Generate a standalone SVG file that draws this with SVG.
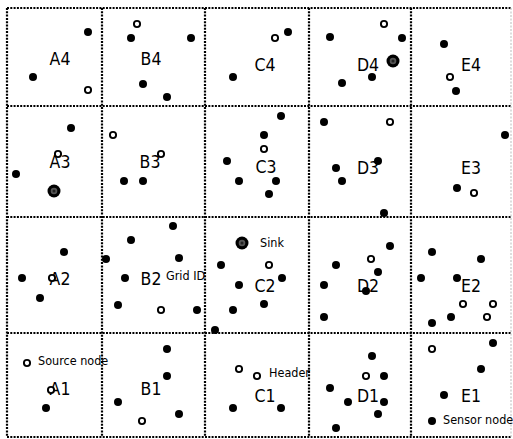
<svg xmlns="http://www.w3.org/2000/svg" width="513" height="439" viewBox="0 0 513 439">
<style>
.grid{stroke:#000;stroke-width:2.2;stroke-dasharray:2 1.3;fill:none}
.f{fill:#000}
.o{fill:#fff;stroke:#000;stroke-width:1.9}
.lbl{font-family:"DejaVu Sans Condensed","DejaVu Sans",sans-serif;font-size:17.5px;text-anchor:middle;fill:#000}
.sm{font-family:"DejaVu Sans Condensed","DejaVu Sans",sans-serif;font-size:12.5px;fill:#000}
</style>
<defs>
<circle id="fd" r="4" class="f"/>
<circle id="od" r="3.1" class="o"/>
<g id="sk"><circle r="6.5" fill="#000"/><circle r="3.3" fill="#555"/><circle r="1.5" fill="#222"/></g>
</defs>
<rect width="513" height="439" fill="#fff"/>
<g id="connectors">
<line class="grid" x1="7" y1="8" x2="511" y2="8"/>
<line class="grid" x1="7" y1="106" x2="511" y2="106"/>
<line class="grid" x1="7" y1="217" x2="511" y2="217"/>
<line class="grid" x1="7" y1="333" x2="511" y2="333"/>
<line class="grid" x1="7" y1="437" x2="511" y2="437"/>
<line class="grid" x1="7" y1="8" x2="7" y2="437"/>
<line class="grid" x1="102" y1="8" x2="102" y2="437"/>
<line class="grid" x1="205" y1="8" x2="205" y2="437"/>
<line class="grid" x1="309" y1="8" x2="309" y2="437"/>
<line class="grid" x1="411" y1="8" x2="411" y2="437"/>
<line x1="511" y1="8" x2="511" y2="437" stroke="#bbb" stroke-width="1" stroke-dasharray="2 1.5"/>
</g>
<g id="A4"><use href="#fd" x="88" y="32"/><use href="#fd" x="33" y="77"/><use href="#od" x="88" y="90"/><text class="lbl" x="60" y="65">A4</text></g>
<g id="B4"><use href="#od" x="137" y="24"/><use href="#fd" x="131" y="38"/><use href="#fd" x="191" y="38"/><use href="#fd" x="143" y="84"/><use href="#fd" x="167" y="97"/><text class="lbl" x="151" y="65">B4</text></g>
<g id="C4"><use href="#od" x="275" y="38"/><use href="#fd" x="288" y="32"/><use href="#fd" x="233" y="77"/><text class="lbl" x="265" y="71">C4</text></g>
<g id="D4"><use href="#fd" x="330" y="37"/><use href="#od" x="384" y="24"/><use href="#fd" x="402" y="38"/><use href="#sk" x="393" y="61"/><use href="#fd" x="342" y="83"/><use href="#fd" x="372" y="77"/><text class="lbl" x="368" y="71">D4</text></g>
<g id="E4"><use href="#fd" x="444" y="44"/><use href="#od" x="450" y="77"/><use href="#fd" x="456" y="91"/><text class="lbl" x="471" y="71">E4</text></g>
<g id="A3"><use href="#fd" x="71" y="128"/><use href="#fd" x="16" y="174"/><use href="#sk" x="54" y="191"/><text class="lbl" x="60" y="168">A3</text><use href="#od" x="58" y="154"/></g>
<g id="B3"><use href="#od" x="113" y="135"/><use href="#fd" x="124" y="181"/><use href="#fd" x="143" y="181"/><text class="lbl" x="150" y="168">B3</text><use href="#od" x="161" y="154"/></g>
<g id="C3"><use href="#fd" x="281" y="116"/><use href="#fd" x="264" y="135"/><use href="#od" x="264" y="149"/><use href="#fd" x="227" y="161"/><use href="#fd" x="239" y="181"/><use href="#fd" x="276" y="181"/><use href="#fd" x="269" y="194"/><text class="lbl" x="266" y="173">C3</text></g>
<g id="D3"><use href="#fd" x="324" y="122"/><use href="#od" x="390" y="122"/><use href="#fd" x="336" y="168"/><use href="#fd" x="342" y="181"/><text class="lbl" x="368" y="174">D3</text><use href="#fd" x="378" y="161"/><use href="#fd" x="384" y="213"/></g>
<g id="E3"><use href="#fd" x="505" y="135"/><use href="#fd" x="457" y="188"/><use href="#od" x="474" y="193"/><text class="lbl" x="471" y="174">E3</text></g>
<g id="A2"><use href="#fd" x="64" y="252"/><use href="#fd" x="22" y="278"/><use href="#fd" x="40" y="298"/><text class="lbl" x="60" y="285">A2</text><use href="#od" x="52" y="278"/></g>
<g id="B2"><use href="#fd" x="173" y="226"/><use href="#fd" x="131" y="240"/><use href="#fd" x="106" y="259"/><use href="#fd" x="179" y="258"/><use href="#fd" x="125" y="278"/><use href="#fd" x="118" y="305"/><use href="#od" x="161" y="310"/><use href="#fd" x="197" y="310"/><text class="lbl" x="151" y="285">B2</text><text class="sm" x="166" y="280">Grid ID</text></g>
<g id="C2"><use href="#sk" x="242" y="243"/><text class="sm" x="260" y="247">Sink</text><use href="#fd" x="221" y="265"/><use href="#fd" x="239" y="285"/><use href="#fd" x="233" y="310"/><use href="#fd" x="215" y="330"/><use href="#od" x="269" y="265"/><use href="#fd" x="282" y="278"/><use href="#fd" x="264" y="304"/><text class="lbl" x="265" y="292">C2</text></g>
<g id="D2"><use href="#fd" x="390" y="246"/><use href="#od" x="371" y="259"/><use href="#fd" x="336" y="265"/><use href="#fd" x="378" y="272"/><use href="#fd" x="324" y="285"/><use href="#fd" x="324" y="317"/><text class="lbl" x="368" y="292">D2</text><use href="#fd" x="366" y="291"/></g>
<g id="E2"><use href="#fd" x="432" y="252"/><use href="#fd" x="481" y="259"/><use href="#fd" x="421" y="278"/><use href="#fd" x="457" y="278"/><use href="#od" x="463" y="304"/><use href="#od" x="493" y="304"/><use href="#fd" x="451" y="317"/><use href="#od" x="487" y="317"/><use href="#fd" x="432" y="323"/><text class="lbl" x="471" y="292">E2</text></g>
<g id="A1"><use href="#od" x="27" y="363"/><text class="sm" x="38" y="365">Source node</text><use href="#fd" x="46" y="408"/><text class="lbl" x="60" y="395">A1</text><use href="#od" x="51" y="390"/></g>
<g id="B1"><use href="#fd" x="167" y="349"/><use href="#fd" x="167" y="376"/><use href="#fd" x="118" y="402"/><use href="#fd" x="179" y="414"/><use href="#od" x="142" y="421"/><text class="lbl" x="151" y="395">B1</text></g>
<g id="C1"><use href="#od" x="239" y="369"/><use href="#fd" x="233" y="408"/><use href="#od" x="257" y="376"/><text class="sm" x="269" y="377">Header</text><use href="#fd" x="281" y="408"/><text class="lbl" x="265" y="402">C1</text></g>
<g id="D1"><use href="#fd" x="372" y="356"/><use href="#od" x="366" y="376"/><use href="#fd" x="384" y="376"/><use href="#fd" x="330" y="388"/><use href="#fd" x="348" y="402"/><use href="#fd" x="384" y="402"/><use href="#fd" x="378" y="414"/><use href="#fd" x="336" y="428"/><text class="lbl" x="368" y="402">D1</text></g>
<g id="E1"><use href="#od" x="432" y="349"/><use href="#fd" x="493" y="343"/><use href="#fd" x="481" y="369"/><use href="#fd" x="444" y="395"/><text class="lbl" x="471" y="402">E1</text><use href="#fd" x="432" y="421"/><text class="sm" x="443" y="424">Sensor node</text></g>
</svg>
